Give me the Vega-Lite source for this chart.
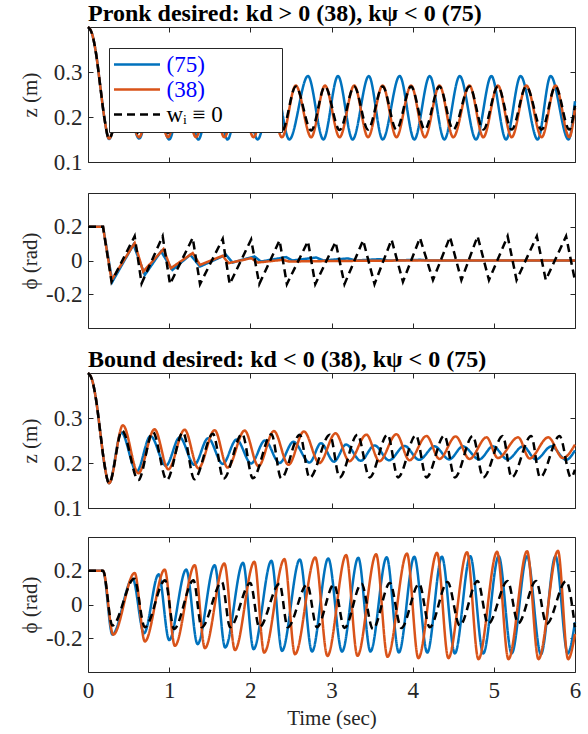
{
"$schema": "https://vega.github.io/schema/vega-lite/v6.json",
"background": "white",
"padding": {"left": 18, "top": 1, "right": 8, "bottom": 0},
"config": {
  "font": "Liberation Serif, DejaVu Serif, serif",
  "view": {"stroke": "#262626", "strokeWidth": 1},
  "axis": {"labelFont": "Liberation Serif, DejaVu Serif, serif", "labelFontSize": 23, "labelColor": "#262626", "titleFont": "Liberation Serif, DejaVu Serif, serif", "titleFontSize": 21, "titleFontWeight": "normal", "titleColor": "#262626", "domain": false, "grid": false, "tickColor": "#262626", "tickSize": -5, "labelPadding": 11},
  "title": {"font": "Liberation Serif, DejaVu Serif, serif", "fontSize": 24, "fontWeight": "bold", "color": "black", "anchor": "start", "frame": "group", "offset": -4},
  "line": {"strokeWidth": 2.5, "clip": true}
},
"datasets": {
"p1": [
{"t":0,"v":0.4,"s":"(75)"},{"t":0.05,"v":0.385,"s":"(75)"},{"t":0.1,"v":0.34,"s":"(75)"},{"t":0.15,"v":0.27,"s":"(75)"},{"t":0.2,"v":0.2,"s":"(75)"},{"t":0.259,"v":0.151,"s":"(75)"},{"t":0.44,"v":0.27,"s":"(75)"},{"t":0.63,"v":0.152,"s":"(75)"},{"t":0.81,"v":0.275,"s":"(75)"},{"t":1.0,"v":0.15,"s":"(75)"},{"t":1.18,"v":0.28,"s":"(75)"},{"t":1.36,"v":0.15,"s":"(75)"},{"t":1.54,"v":0.285,"s":"(75)"},{"t":1.72,"v":0.15,"s":"(75)"},{"t":1.9,"v":0.288,"s":"(75)"},{"t":2.09,"v":0.15,"s":"(75)"},{"t":2.29,"v":0.29,"s":"(75)"},{"t":2.48,"v":0.15,"s":"(75)"},{"t":2.71,"v":0.291,"s":"(75)"},{"t":2.9,"v":0.15,"s":"(75)"},{"t":3.08,"v":0.291,"s":"(75)"},{"t":3.26,"v":0.15,"s":"(75)"},{"t":3.46,"v":0.291,"s":"(75)"},{"t":3.63,"v":0.15,"s":"(75)"},{"t":3.84,"v":0.291,"s":"(75)"},{"t":4.02,"v":0.15,"s":"(75)"},{"t":4.21,"v":0.291,"s":"(75)"},{"t":4.39,"v":0.15,"s":"(75)"},{"t":4.58,"v":0.291,"s":"(75)"},{"t":4.78,"v":0.15,"s":"(75)"},{"t":4.97,"v":0.291,"s":"(75)"},{"t":5.15,"v":0.15,"s":"(75)"},{"t":5.33,"v":0.291,"s":"(75)"},{"t":5.54,"v":0.15,"s":"(75)"},{"t":5.7,"v":0.291,"s":"(75)"},{"t":5.92,"v":0.15,"s":"(75)"},{"t":6.0,"v":0.235,"s":"(75)"},
{"t":0,"v":0.4,"s":"(38)"},{"t":0.05,"v":0.385,"s":"(38)"},{"t":0.1,"v":0.34,"s":"(38)"},{"t":0.15,"v":0.27,"s":"(38)"},{"t":0.2,"v":0.2,"s":"(38)"},{"t":0.259,"v":0.152,"s":"(38)"},{"t":0.44,"v":0.265,"s":"(38)"},{"t":0.628,"v":0.155,"s":"(38)"},{"t":0.81,"v":0.268,"s":"(38)"},{"t":0.985,"v":0.155,"s":"(38)"},{"t":1.16,"v":0.27,"s":"(38)"},{"t":1.33,"v":0.155,"s":"(38)"},{"t":1.51,"v":0.27,"s":"(38)"},{"t":1.68,"v":0.155,"s":"(38)"},{"t":1.86,"v":0.27,"s":"(38)"},{"t":2.04,"v":0.155,"s":"(38)"},{"t":2.21,"v":0.27,"s":"(38)"},{"t":2.39,"v":0.155,"s":"(38)"},{"t":2.56,"v":0.27,"s":"(38)"},{"t":2.75,"v":0.155,"s":"(38)"},{"t":2.92,"v":0.27,"s":"(38)"},{"t":3.1,"v":0.155,"s":"(38)"},{"t":3.28,"v":0.27,"s":"(38)"},{"t":3.45,"v":0.155,"s":"(38)"},{"t":3.63,"v":0.27,"s":"(38)"},{"t":3.8,"v":0.155,"s":"(38)"},{"t":3.98,"v":0.27,"s":"(38)"},{"t":4.15,"v":0.155,"s":"(38)"},{"t":4.33,"v":0.27,"s":"(38)"},{"t":4.5,"v":0.155,"s":"(38)"},{"t":4.7,"v":0.27,"s":"(38)"},{"t":4.87,"v":0.155,"s":"(38)"},{"t":5.05,"v":0.27,"s":"(38)"},{"t":5.22,"v":0.155,"s":"(38)"},{"t":5.4,"v":0.27,"s":"(38)"},{"t":5.59,"v":0.155,"s":"(38)"},{"t":5.76,"v":0.27,"s":"(38)"},{"t":5.93,"v":0.155,"s":"(38)"},{"t":6.0,"v":0.22,"s":"(38)"},
{"t":0,"v":0.4,"s":"wᵢ ≡ 0"},{"t":0.05,"v":0.385,"s":"wᵢ ≡ 0"},{"t":0.1,"v":0.34,"s":"wᵢ ≡ 0"},{"t":0.15,"v":0.27,"s":"wᵢ ≡ 0"},{"t":0.2,"v":0.2,"s":"wᵢ ≡ 0"},{"t":0.259,"v":0.152,"s":"wᵢ ≡ 0"},{"t":0.44,"v":0.264,"s":"wᵢ ≡ 0"},{"t":0.628,"v":0.163,"s":"wᵢ ≡ 0"},{"t":0.81,"v":0.266,"s":"wᵢ ≡ 0"},{"t":0.985,"v":0.165,"s":"wᵢ ≡ 0"},{"t":1.16,"v":0.267,"s":"wᵢ ≡ 0"},{"t":1.33,"v":0.166,"s":"wᵢ ≡ 0"},{"t":1.51,"v":0.268,"s":"wᵢ ≡ 0"},{"t":1.68,"v":0.167,"s":"wᵢ ≡ 0"},{"t":1.86,"v":0.268,"s":"wᵢ ≡ 0"},{"t":2.04,"v":0.168,"s":"wᵢ ≡ 0"},{"t":2.21,"v":0.268,"s":"wᵢ ≡ 0"},{"t":2.39,"v":0.169,"s":"wᵢ ≡ 0"},{"t":2.56,"v":0.268,"s":"wᵢ ≡ 0"},{"t":2.75,"v":0.17,"s":"wᵢ ≡ 0"},{"t":2.92,"v":0.268,"s":"wᵢ ≡ 0"},{"t":3.1,"v":0.171,"s":"wᵢ ≡ 0"},{"t":3.28,"v":0.268,"s":"wᵢ ≡ 0"},{"t":3.45,"v":0.172,"s":"wᵢ ≡ 0"},{"t":3.63,"v":0.268,"s":"wᵢ ≡ 0"},{"t":3.8,"v":0.172,"s":"wᵢ ≡ 0"},{"t":3.98,"v":0.268,"s":"wᵢ ≡ 0"},{"t":4.15,"v":0.172,"s":"wᵢ ≡ 0"},{"t":4.33,"v":0.268,"s":"wᵢ ≡ 0"},{"t":4.5,"v":0.172,"s":"wᵢ ≡ 0"},{"t":4.7,"v":0.268,"s":"wᵢ ≡ 0"},{"t":4.87,"v":0.172,"s":"wᵢ ≡ 0"},{"t":5.05,"v":0.268,"s":"wᵢ ≡ 0"},{"t":5.22,"v":0.172,"s":"wᵢ ≡ 0"},{"t":5.4,"v":0.268,"s":"wᵢ ≡ 0"},{"t":5.59,"v":0.172,"s":"wᵢ ≡ 0"},{"t":5.76,"v":0.268,"s":"wᵢ ≡ 0"},{"t":5.93,"v":0.172,"s":"wᵢ ≡ 0"},{"t":6.0,"v":0.225,"s":"wᵢ ≡ 0"}
],
"p2": [
{"t":0,"v":0.2,"s":"(75)"},{"t":0.185,"v":0.2,"s":"(75)"},{"t":0.3,"v":-0.126,"s":"(75)"},{"t":0.56,"v":0.094,"s":"(75)"},{"t":0.7,"v":-0.086,"s":"(75)"},{"t":0.9,"v":0.054,"s":"(75)"},{"t":1.04,"v":-0.056,"s":"(75)"},{"t":1.26,"v":0.034,"s":"(75)"},{"t":1.38,"v":-0.036,"s":"(75)"},{"t":1.7,"v":0.034,"s":"(75)"},{"t":1.78,"v":-0.012,"s":"(75)"},{"t":2.05,"v":0.024,"s":"(75)"},{"t":2.13,"v":-0.006,"s":"(75)"},{"t":2.44,"v":0.02,"s":"(75)"},{"t":2.52,"v":0.0,"s":"(75)"},{"t":2.81,"v":0.018,"s":"(75)"},{"t":2.9,"v":0.0,"s":"(75)"},{"t":3.2,"v":0.012,"s":"(75)"},{"t":3.3,"v":0.0,"s":"(75)"},{"t":3.6,"v":0.008,"s":"(75)"},{"t":3.7,"v":0.0,"s":"(75)"},{"t":4.1,"v":0.004,"s":"(75)"},{"t":4.2,"v":0.0,"s":"(75)"},{"t":6.0,"v":0.0,"s":"(75)"},
{"t":0,"v":0.2,"s":"(38)"},{"t":0.185,"v":0.2,"s":"(38)"},{"t":0.29,"v":-0.116,"s":"(38)"},{"t":0.575,"v":0.104,"s":"(38)"},{"t":0.68,"v":-0.066,"s":"(38)"},{"t":0.93,"v":0.068,"s":"(38)"},{"t":1.02,"v":-0.046,"s":"(38)"},{"t":1.29,"v":0.044,"s":"(38)"},{"t":1.38,"v":-0.026,"s":"(38)"},{"t":1.66,"v":0.028,"s":"(38)"},{"t":1.73,"v":-0.016,"s":"(38)"},{"t":2.01,"v":0.014,"s":"(38)"},{"t":2.09,"v":-0.012,"s":"(38)"},{"t":2.4,"v":0.004,"s":"(38)"},{"t":2.48,"v":-0.006,"s":"(38)"},{"t":3.0,"v":-0.003,"s":"(38)"},{"t":4.0,"v":0.0,"s":"(38)"},{"t":6.0,"v":0.0,"s":"(38)"},
{"t":0,"v":0.2,"s":"wᵢ ≡ 0"},{"t":0.185,"v":0.2,"s":"wᵢ ≡ 0"},{"t":0.29,"v":-0.126,"s":"wᵢ ≡ 0"},{"t":0.575,"v":0.144,"s":"wᵢ ≡ 0"},{"t":0.66,"v":-0.136,"s":"wᵢ ≡ 0"},{"t":0.92,"v":0.144,"s":"wᵢ ≡ 0"},{"t":1.01,"v":-0.14,"s":"wᵢ ≡ 0"},{"t":1.29,"v":0.134,"s":"wᵢ ≡ 0"},{"t":1.38,"v":-0.14,"s":"wᵢ ≡ 0"},{"t":1.66,"v":0.128,"s":"wᵢ ≡ 0"},{"t":1.745,"v":-0.14,"s":"wᵢ ≡ 0"},{"t":2.01,"v":0.124,"s":"wᵢ ≡ 0"},{"t":2.11,"v":-0.14,"s":"wᵢ ≡ 0"},{"t":2.36,"v":0.12,"s":"wᵢ ≡ 0"},{"t":2.45,"v":-0.14,"s":"wᵢ ≡ 0"},{"t":2.71,"v":0.114,"s":"wᵢ ≡ 0"},{"t":2.8,"v":-0.14,"s":"wᵢ ≡ 0"},{"t":3.05,"v":0.11,"s":"wᵢ ≡ 0"},{"t":3.16,"v":-0.14,"s":"wᵢ ≡ 0"},{"t":3.39,"v":0.12,"s":"wᵢ ≡ 0"},{"t":3.53,"v":-0.14,"s":"wᵢ ≡ 0"},{"t":3.74,"v":0.124,"s":"wᵢ ≡ 0"},{"t":3.88,"v":-0.126,"s":"wᵢ ≡ 0"},{"t":4.09,"v":0.134,"s":"wᵢ ≡ 0"},{"t":4.25,"v":-0.116,"s":"wᵢ ≡ 0"},{"t":4.46,"v":0.14,"s":"wᵢ ≡ 0"},{"t":4.6,"v":-0.116,"s":"wᵢ ≡ 0"},{"t":4.8,"v":0.144,"s":"wᵢ ≡ 0"},{"t":4.94,"v":-0.116,"s":"wᵢ ≡ 0"},{"t":5.17,"v":0.144,"s":"wᵢ ≡ 0"},{"t":5.28,"v":-0.116,"s":"wᵢ ≡ 0"},{"t":5.53,"v":0.144,"s":"wᵢ ≡ 0"},{"t":5.64,"v":-0.116,"s":"wᵢ ≡ 0"},{"t":5.89,"v":0.144,"s":"wᵢ ≡ 0"},{"t":6.0,"v":-0.12,"s":"wᵢ ≡ 0"}
],
"p3": [
{"t":0,"v":0.4,"s":"(75)"},{"t":0.05,"v":0.385,"s":"(75)"},{"t":0.1,"v":0.34,"s":"(75)"},{"t":0.15,"v":0.27,"s":"(75)"},{"t":0.2,"v":0.2,"s":"(75)"},{"t":0.26,"v":0.155,"s":"(75)"},{"t":0.41,"v":0.268,"s":"(75)"},{"t":0.6,"v":0.181,"s":"(75)"},{"t":0.77,"v":0.26,"s":"(75)"},{"t":0.96,"v":0.194,"s":"(75)"},{"t":1.13,"v":0.257,"s":"(75)"},{"t":1.31,"v":0.196,"s":"(75)"},{"t":1.48,"v":0.255,"s":"(75)"},{"t":1.66,"v":0.198,"s":"(75)"},{"t":1.83,"v":0.252,"s":"(75)"},{"t":2.01,"v":0.199,"s":"(75)"},{"t":2.18,"v":0.25,"s":"(75)"},{"t":2.36,"v":0.2,"s":"(75)"},{"t":2.53,"v":0.247,"s":"(75)"},{"t":2.73,"v":0.201,"s":"(75)"},{"t":2.87,"v":0.244,"s":"(75)"},{"t":3.03,"v":0.203,"s":"(75)"},{"t":3.18,"v":0.241,"s":"(75)"},{"t":3.36,"v":0.205,"s":"(75)"},{"t":3.53,"v":0.239,"s":"(75)"},{"t":3.71,"v":0.206,"s":"(75)"},{"t":3.9,"v":0.238,"s":"(75)"},{"t":4.08,"v":0.207,"s":"(75)"},{"t":4.27,"v":0.237,"s":"(75)"},{"t":4.45,"v":0.208,"s":"(75)"},{"t":4.62,"v":0.237,"s":"(75)"},{"t":4.82,"v":0.208,"s":"(75)"},{"t":4.99,"v":0.237,"s":"(75)"},{"t":5.17,"v":0.208,"s":"(75)"},{"t":5.36,"v":0.237,"s":"(75)"},{"t":5.52,"v":0.208,"s":"(75)"},{"t":5.71,"v":0.237,"s":"(75)"},{"t":5.89,"v":0.207,"s":"(75)"},{"t":6.0,"v":0.228,"s":"(75)"},
{"t":0,"v":0.4,"s":"(38)"},{"t":0.05,"v":0.385,"s":"(38)"},{"t":0.1,"v":0.34,"s":"(38)"},{"t":0.15,"v":0.27,"s":"(38)"},{"t":0.2,"v":0.2,"s":"(38)"},{"t":0.26,"v":0.155,"s":"(38)"},{"t":0.43,"v":0.284,"s":"(38)"},{"t":0.62,"v":0.177,"s":"(38)"},{"t":0.82,"v":0.275,"s":"(38)"},{"t":0.99,"v":0.186,"s":"(38)"},{"t":1.19,"v":0.274,"s":"(38)"},{"t":1.36,"v":0.188,"s":"(38)"},{"t":1.56,"v":0.273,"s":"(38)"},{"t":1.72,"v":0.19,"s":"(38)"},{"t":1.93,"v":0.272,"s":"(38)"},{"t":2.1,"v":0.193,"s":"(38)"},{"t":2.29,"v":0.271,"s":"(38)"},{"t":2.47,"v":0.196,"s":"(38)"},{"t":2.66,"v":0.27,"s":"(38)"},{"t":2.85,"v":0.2,"s":"(38)"},{"t":3.05,"v":0.266,"s":"(38)"},{"t":3.22,"v":0.204,"s":"(38)"},{"t":3.43,"v":0.263,"s":"(38)"},{"t":3.59,"v":0.204,"s":"(38)"},{"t":3.8,"v":0.264,"s":"(38)"},{"t":3.96,"v":0.206,"s":"(38)"},{"t":4.17,"v":0.26,"s":"(38)"},{"t":4.33,"v":0.209,"s":"(38)"},{"t":4.53,"v":0.259,"s":"(38)"},{"t":4.7,"v":0.209,"s":"(38)"},{"t":4.91,"v":0.257,"s":"(38)"},{"t":5.05,"v":0.211,"s":"(38)"},{"t":5.3,"v":0.257,"s":"(38)"},{"t":5.44,"v":0.21,"s":"(38)"},{"t":5.67,"v":0.257,"s":"(38)"},{"t":5.85,"v":0.211,"s":"(38)"},{"t":6.0,"v":0.241,"s":"(38)"},
{"t":0,"v":0.4,"s":"wᵢ ≡ 0"},{"t":0.05,"v":0.385,"s":"wᵢ ≡ 0"},{"t":0.1,"v":0.34,"s":"wᵢ ≡ 0"},{"t":0.15,"v":0.27,"s":"wᵢ ≡ 0"},{"t":0.2,"v":0.2,"s":"wᵢ ≡ 0"},{"t":0.26,"v":0.155,"s":"wᵢ ≡ 0"},{"t":0.42,"v":0.272,"s":"wᵢ ≡ 0"},{"t":0.62,"v":0.162,"s":"wᵢ ≡ 0"},{"t":0.8,"v":0.269,"s":"wᵢ ≡ 0"},{"t":0.97,"v":0.162,"s":"wᵢ ≡ 0"},{"t":1.17,"v":0.268,"s":"wᵢ ≡ 0"},{"t":1.31,"v":0.164,"s":"wᵢ ≡ 0"},{"t":1.54,"v":0.265,"s":"wᵢ ≡ 0"},{"t":1.67,"v":0.165,"s":"wᵢ ≡ 0"},{"t":1.9,"v":0.265,"s":"wᵢ ≡ 0"},{"t":2.03,"v":0.166,"s":"wᵢ ≡ 0"},{"t":2.26,"v":0.264,"s":"wᵢ ≡ 0"},{"t":2.38,"v":0.166,"s":"wᵢ ≡ 0"},{"t":2.61,"v":0.263,"s":"wᵢ ≡ 0"},{"t":2.73,"v":0.167,"s":"wᵢ ≡ 0"},{"t":2.98,"v":0.263,"s":"wᵢ ≡ 0"},{"t":3.1,"v":0.168,"s":"wᵢ ≡ 0"},{"t":3.32,"v":0.263,"s":"wᵢ ≡ 0"},{"t":3.47,"v":0.168,"s":"wᵢ ≡ 0"},{"t":3.69,"v":0.263,"s":"wᵢ ≡ 0"},{"t":3.82,"v":0.168,"s":"wᵢ ≡ 0"},{"t":4.04,"v":0.262,"s":"wᵢ ≡ 0"},{"t":4.17,"v":0.168,"s":"wᵢ ≡ 0"},{"t":4.39,"v":0.261,"s":"wᵢ ≡ 0"},{"t":4.52,"v":0.168,"s":"wᵢ ≡ 0"},{"t":4.74,"v":0.26,"s":"wᵢ ≡ 0"},{"t":4.87,"v":0.168,"s":"wᵢ ≡ 0"},{"t":5.11,"v":0.26,"s":"wᵢ ≡ 0"},{"t":5.22,"v":0.168,"s":"wᵢ ≡ 0"},{"t":5.46,"v":0.26,"s":"wᵢ ≡ 0"},{"t":5.57,"v":0.168,"s":"wᵢ ≡ 0"},{"t":5.81,"v":0.26,"s":"wᵢ ≡ 0"},{"t":5.95,"v":0.168,"s":"wᵢ ≡ 0"},{"t":6.0,"v":0.185,"s":"wᵢ ≡ 0"}
],
"p4": [
{"t":0,"v":0.2,"s":"(75)"},{"t":0.185,"v":0.2,"s":"(75)"},{"t":0.3,"v":-0.178,"s":"(75)"},{"t":0.55,"v":0.153,"s":"(75)"},{"t":0.69,"v":-0.171,"s":"(75)"},{"t":0.87,"v":0.179,"s":"(75)"},{"t":1.0,"v":-0.211,"s":"(75)"},{"t":1.21,"v":0.207,"s":"(75)"},{"t":1.35,"v":-0.235,"s":"(75)"},{"t":1.56,"v":0.233,"s":"(75)"},{"t":1.69,"v":-0.255,"s":"(75)"},{"t":1.91,"v":0.247,"s":"(75)"},{"t":2.04,"v":-0.265,"s":"(75)"},{"t":2.26,"v":0.259,"s":"(75)"},{"t":2.39,"v":-0.275,"s":"(75)"},{"t":2.61,"v":0.267,"s":"(75)"},{"t":2.76,"v":-0.279,"s":"(75)"},{"t":2.96,"v":0.273,"s":"(75)"},{"t":3.13,"v":-0.279,"s":"(75)"},{"t":3.33,"v":0.277,"s":"(75)"},{"t":3.48,"v":-0.279,"s":"(75)"},{"t":3.68,"v":0.28,"s":"(75)"},{"t":3.83,"v":-0.285,"s":"(75)"},{"t":4.02,"v":0.283,"s":"(75)"},{"t":4.18,"v":-0.285,"s":"(75)"},{"t":4.36,"v":0.283,"s":"(75)"},{"t":4.52,"v":-0.29,"s":"(75)"},{"t":4.71,"v":0.286,"s":"(75)"},{"t":4.87,"v":-0.29,"s":"(75)"},{"t":5.06,"v":0.286,"s":"(75)"},{"t":5.22,"v":-0.29,"s":"(75)"},{"t":5.41,"v":0.286,"s":"(75)"},{"t":5.58,"v":-0.295,"s":"(75)"},{"t":5.76,"v":0.286,"s":"(75)"},{"t":5.91,"v":-0.29,"s":"(75)"},{"t":6.0,"v":-0.105,"s":"(75)"},
{"t":0,"v":0.2,"s":"(38)"},{"t":0.185,"v":0.2,"s":"(38)"},{"t":0.31,"v":-0.179,"s":"(38)"},{"t":0.575,"v":0.187,"s":"(38)"},{"t":0.7,"v":-0.219,"s":"(38)"},{"t":0.945,"v":0.207,"s":"(38)"},{"t":1.07,"v":-0.245,"s":"(38)"},{"t":1.315,"v":0.233,"s":"(38)"},{"t":1.44,"v":-0.259,"s":"(38)"},{"t":1.68,"v":0.243,"s":"(38)"},{"t":1.81,"v":-0.27,"s":"(38)"},{"t":2.05,"v":0.253,"s":"(38)"},{"t":2.17,"v":-0.285,"s":"(38)"},{"t":2.42,"v":0.269,"s":"(38)"},{"t":2.55,"v":-0.295,"s":"(38)"},{"t":2.8,"v":0.279,"s":"(38)"},{"t":2.95,"v":-0.305,"s":"(38)"},{"t":3.18,"v":0.293,"s":"(38)"},{"t":3.32,"v":-0.304,"s":"(38)"},{"t":3.55,"v":0.298,"s":"(38)"},{"t":3.69,"v":-0.31,"s":"(38)"},{"t":3.93,"v":0.302,"s":"(38)"},{"t":4.07,"v":-0.318,"s":"(38)"},{"t":4.3,"v":0.306,"s":"(38)"},{"t":4.44,"v":-0.318,"s":"(38)"},{"t":4.67,"v":0.31,"s":"(38)"},{"t":4.81,"v":-0.324,"s":"(38)"},{"t":5.04,"v":0.312,"s":"(38)"},{"t":5.18,"v":-0.324,"s":"(38)"},{"t":5.41,"v":0.316,"s":"(38)"},{"t":5.55,"v":-0.324,"s":"(38)"},{"t":5.79,"v":0.318,"s":"(38)"},{"t":5.915,"v":-0.324,"s":"(38)"},{"t":6.0,"v":-0.175,"s":"(38)"},
{"t":0,"v":0.2,"s":"wᵢ ≡ 0"},{"t":0.185,"v":0.2,"s":"wᵢ ≡ 0"},{"t":0.3,"v":-0.125,"s":"wᵢ ≡ 0"},{"t":0.57,"v":0.153,"s":"wᵢ ≡ 0"},{"t":0.7,"v":-0.135,"s":"wᵢ ≡ 0"},{"t":0.95,"v":0.143,"s":"wᵢ ≡ 0"},{"t":1.06,"v":-0.145,"s":"wᵢ ≡ 0"},{"t":1.3,"v":0.143,"s":"wᵢ ≡ 0"},{"t":1.4,"v":-0.135,"s":"wᵢ ≡ 0"},{"t":1.65,"v":0.133,"s":"wᵢ ≡ 0"},{"t":1.75,"v":-0.135,"s":"wᵢ ≡ 0"},{"t":2.0,"v":0.127,"s":"wᵢ ≡ 0"},{"t":2.11,"v":-0.135,"s":"wᵢ ≡ 0"},{"t":2.36,"v":0.123,"s":"wᵢ ≡ 0"},{"t":2.46,"v":-0.135,"s":"wᵢ ≡ 0"},{"t":2.7,"v":0.119,"s":"wᵢ ≡ 0"},{"t":2.82,"v":-0.135,"s":"wᵢ ≡ 0"},{"t":3.03,"v":0.119,"s":"wᵢ ≡ 0"},{"t":3.16,"v":-0.139,"s":"wᵢ ≡ 0"},{"t":3.37,"v":0.123,"s":"wᵢ ≡ 0"},{"t":3.51,"v":-0.145,"s":"wᵢ ≡ 0"},{"t":3.72,"v":0.127,"s":"wᵢ ≡ 0"},{"t":3.86,"v":-0.139,"s":"wᵢ ≡ 0"},{"t":4.08,"v":0.123,"s":"wᵢ ≡ 0"},{"t":4.21,"v":-0.135,"s":"wᵢ ≡ 0"},{"t":4.43,"v":0.133,"s":"wᵢ ≡ 0"},{"t":4.58,"v":-0.125,"s":"wᵢ ≡ 0"},{"t":4.8,"v":0.139,"s":"wᵢ ≡ 0"},{"t":4.93,"v":-0.115,"s":"wᵢ ≡ 0"},{"t":5.17,"v":0.139,"s":"wᵢ ≡ 0"},{"t":5.3,"v":-0.111,"s":"wᵢ ≡ 0"},{"t":5.52,"v":0.139,"s":"wᵢ ≡ 0"},{"t":5.65,"v":-0.115,"s":"wᵢ ≡ 0"},{"t":5.89,"v":0.139,"s":"wᵢ ≡ 0"},{"t":6.0,"v":-0.135,"s":"wᵢ ≡ 0"}
]
},
"spacing": 18,
"resolve": {"scale": {"color": "independent", "strokeDash": "independent"}, "legend": {"color": "independent", "strokeDash": "independent"}},
"vconcat": [
{
 "spacing": 17,
 "resolve": {"scale": {"color": "independent", "strokeDash": "independent"}, "legend": {"color": "independent", "strokeDash": "independent"}},
 "vconcat": [
  {
   "width": 487, "height": 135,
   "title": {"text": "Pronk desired: kd > 0 (38), kψ < 0 (75)"},
   "data": {"name": "p1"},
   "resolve": {"axis": {"x": "independent", "y": "independent"}},
   "layer": [
    {
     "mark": {"type": "line", "interpolate": "monotone", "strokeWidth": 2.5},
     "encoding": {
      "x": {"field": "t", "type": "quantitative", "scale": {"domain": [0, 6], "nice": false}, "axis": {"values": [0,1,2,3,4,5,6], "labels": false, "title": null}},
      "y": {"field": "v", "type": "quantitative", "scale": {"domain": [0.1, 0.4], "nice": false, "zero": false}, "axis": {"values": [0.1, 0.2, 0.3], "format": ".1f", "title": "z (m)", "titleX": -48}},
      "color": {"field": "s", "type": "nominal", "scale": {"domain": ["(75)", "(38)", "wᵢ ≡ 0"], "range": ["#0072BD", "#D95319", "#000000"]},
        "legend": {"orient": "top-left", "offset": 21, "title": null, "fillColor": "white", "strokeColor": "#262626", "padding": 5, "symbolType": "M-2.3,0H2.3", "symbolSize": 400, "symbolStrokeWidth": 2.5, "symbolOffset": 11.5, "labelOffset": 18, "labelFont": "Liberation Serif, DejaVu Serif, serif", "labelFontSize": 23, "labelColor": {"expr": "datum.value === 'wᵢ ≡ 0' ? '#000000' : '#0000FF'"}, "rowPadding": 1, "labelExpr": "datum.label + '\u2003\u2003\u2004\u2060'"}},
      "strokeDash": {"field": "s", "type": "nominal", "scale": {"domain": ["(75)", "(38)", "wᵢ ≡ 0"], "range": [[1, 0], [1, 0], [8, 5]]}}
     }
    },
    {
     "mark": {"type": "line", "opacity": 0},
     "encoding": {
      "x": {"field": "t", "type": "quantitative", "scale": {"domain": [0, 6], "nice": false}, "axis": {"orient": "top", "values": [0,1,2,3,4,5,6], "labels": false, "title": null}},
      "y": {"field": "v", "type": "quantitative", "scale": {"domain": [0.1, 0.4], "nice": false, "zero": false}, "axis": {"orient": "right", "values": [0.1, 0.2, 0.3], "labels": false, "title": null}},
      "detail": {"field": "s"}
     }
    }
   ]
  },
  {
   "width": 487, "height": 135,
   "data": {"name": "p2"},
   "resolve": {"axis": {"x": "independent", "y": "independent"}},
   "layer": [
    {
     "mark": {"type": "line", "interpolate": "linear", "strokeWidth": 2.5},
     "encoding": {
      "x": {"field": "t", "type": "quantitative", "scale": {"domain": [0, 6], "nice": false}, "axis": {"values": [0,1,2,3,4,5,6], "labels": false, "title": null}},
      "y": {"field": "v", "type": "quantitative", "scale": {"domain": [-0.4, 0.4], "nice": false, "zero": false}, "axis": {"values": [-0.2, 0, 0.2], "labelExpr": "datum.value == 0 ? '0' : replace(format(datum.value, '.1f'), '\u2212', '-')", "title": "ϕ (rad)", "titleX": -48}},
      "color": {"field": "s", "type": "nominal", "scale": {"domain": ["(75)", "(38)", "wᵢ ≡ 0"], "range": ["#0072BD", "#D95319", "#000000"]}, "legend": null},
      "strokeDash": {"field": "s", "type": "nominal", "scale": {"domain": ["(75)", "(38)", "wᵢ ≡ 0"], "range": [[1, 0], [1, 0], [8, 5]]}, "legend": null}
     }
    },
    {
     "mark": {"type": "line", "opacity": 0},
     "encoding": {
      "x": {"field": "t", "type": "quantitative", "scale": {"domain": [0, 6], "nice": false}, "axis": {"orient": "top", "values": [0,1,2,3,4,5,6], "labels": false, "title": null}},
      "y": {"field": "v", "type": "quantitative", "scale": {"domain": [-0.4, 0.4], "nice": false, "zero": false}, "axis": {"orient": "right", "values": [-0.2, 0, 0.2], "labels": false, "title": null}},
      "detail": {"field": "s"}
     }
    }
   ]
  }
 ]
},
{
 "spacing": 15,
 "resolve": {"scale": {"color": "independent", "strokeDash": "independent"}, "legend": {"color": "independent", "strokeDash": "independent"}},
 "vconcat": [
  {
   "width": 487, "height": 135,
   "title": {"text": "Bound desired: kd < 0 (38), kψ < 0 (75)"},
   "data": {"name": "p3"},
   "resolve": {"axis": {"x": "independent", "y": "independent"}},
   "layer": [
    {
     "mark": {"type": "line", "interpolate": "monotone", "strokeWidth": 2.5},
     "encoding": {
      "x": {"field": "t", "type": "quantitative", "scale": {"domain": [0, 6], "nice": false}, "axis": {"values": [0,1,2,3,4,5,6], "labels": false, "title": null}},
      "y": {"field": "v", "type": "quantitative", "scale": {"domain": [0.1, 0.4], "nice": false, "zero": false}, "axis": {"values": [0.1, 0.2, 0.3], "format": ".1f", "title": "z (m)", "titleX": -48}},
      "color": {"field": "s", "type": "nominal", "scale": {"domain": ["(75)", "(38)", "wᵢ ≡ 0"], "range": ["#0072BD", "#D95319", "#000000"]}, "legend": null},
      "strokeDash": {"field": "s", "type": "nominal", "scale": {"domain": ["(75)", "(38)", "wᵢ ≡ 0"], "range": [[1, 0], [1, 0], [8, 5]]}, "legend": null}
     }
    },
    {
     "mark": {"type": "line", "opacity": 0},
     "encoding": {
      "x": {"field": "t", "type": "quantitative", "scale": {"domain": [0, 6], "nice": false}, "axis": {"orient": "top", "values": [0,1,2,3,4,5,6], "labels": false, "title": null}},
      "y": {"field": "v", "type": "quantitative", "scale": {"domain": [0.1, 0.4], "nice": false, "zero": false}, "axis": {"orient": "right", "values": [0.1, 0.2, 0.3], "labels": false, "title": null}},
      "detail": {"field": "s"}
     }
    }
   ]
  },
  {
   "width": 487, "height": 135,
   "data": {"name": "p4"},
   "resolve": {"axis": {"x": "independent", "y": "independent"}},
   "layer": [
    {
     "mark": {"type": "line", "interpolate": "monotone", "strokeWidth": 2.5},
     "encoding": {
      "x": {"field": "t", "type": "quantitative", "scale": {"domain": [0, 6], "nice": false}, "axis": {"values": [0,1,2,3,4,5,6], "format": "d", "labelFlush": false, "labelPadding": 12, "title": "Time (sec)", "titlePadding": 5}},
      "y": {"field": "v", "type": "quantitative", "scale": {"domain": [-0.4, 0.4], "nice": false, "zero": false}, "axis": {"values": [-0.2, 0, 0.2], "labelExpr": "datum.value == 0 ? '0' : replace(format(datum.value, '.1f'), '\u2212', '-')", "title": "ϕ (rad)", "titleX": -48}},
      "color": {"field": "s", "type": "nominal", "scale": {"domain": ["(75)", "(38)", "wᵢ ≡ 0"], "range": ["#0072BD", "#D95319", "#000000"]}, "legend": null},
      "strokeDash": {"field": "s", "type": "nominal", "scale": {"domain": ["(75)", "(38)", "wᵢ ≡ 0"], "range": [[1, 0], [1, 0], [8, 5]]}, "legend": null}
     }
    },
    {
     "mark": {"type": "line", "opacity": 0},
     "encoding": {
      "x": {"field": "t", "type": "quantitative", "scale": {"domain": [0, 6], "nice": false}, "axis": {"orient": "top", "values": [0,1,2,3,4,5,6], "labels": false, "title": null}},
      "y": {"field": "v", "type": "quantitative", "scale": {"domain": [-0.4, 0.4], "nice": false, "zero": false}, "axis": {"orient": "right", "values": [-0.2, 0, 0.2], "labels": false, "title": null}},
      "detail": {"field": "s"}
     }
    }
   ]
  }
 ]
}
]
}
